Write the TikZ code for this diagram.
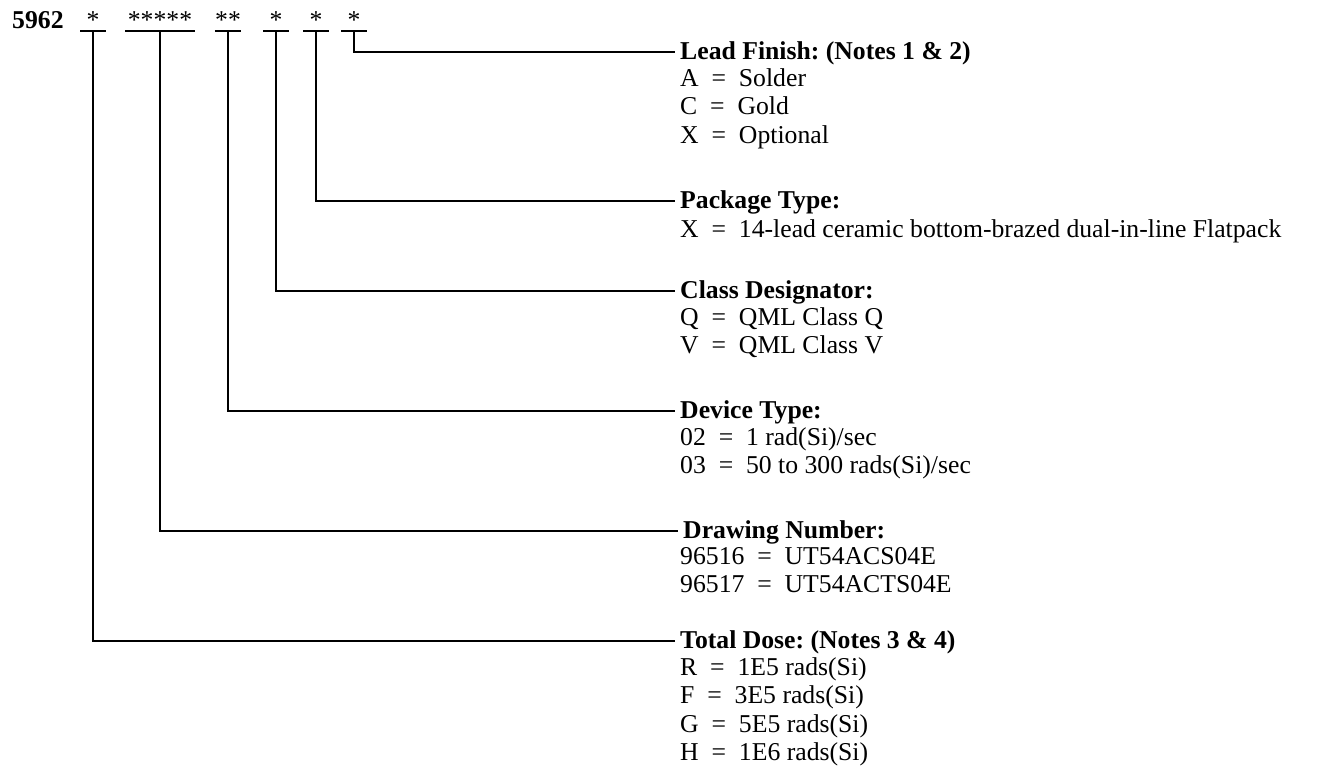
\documentclass[tikz,border=0pt]{standalone}
\usepackage{fontspec}
\setmainfont{Liberation Serif}
\usetikzlibrary{positioning}
\frenchspacing

\begin{document}
\begin{tikzpicture}[
    x=1pt, y=-1pt,
    font=\fontsize{25.7}{28.5}\selectfont,
    campo/.style={inner sep=0pt, text depth=2pt, anchor=base},
    titulo/.style={inner xsep=5pt, inner ysep=0pt, anchor=base west, font=\fontsize{25.7}{28.5}\selectfont\bfseries},
    lista/.style={align=left, inner sep=0pt, execute at begin node=\strut},
    guia/.style={line width=1.8pt},
]
    \useasboundingbox (0,0) rectangle (1318,775);
    % part number and its fields
    \node[titulo, inner xsep=0pt] (pn) at (12,29) {5962};
    \node[campo, minimum width=25pt] (c1) at (93,29) {*};
    \node[campo, minimum width=69pt] (c2) at (160,29) {*****};
    \node[campo, minimum width=24pt] (c3) at (228,29) {**};
    \node[campo, minimum width=25pt] (c4) at (276,29) {*};
    \node[campo, minimum width=25pt] (c5) at (316,29) {*};
    \node[campo, minimum width=25pt] (c6) at (354,29) {*};
    % headings
    \node[titulo] (h1) at (675,59.5) {Lead Finish: (Notes 1 \& 2)};
    \node[titulo] (h2) at (675,208.5) {Package Type:};
    \node[titulo] (h3) at (675,298.5) {Class Designator:};
    \node[titulo] (h4) at (675,418.5) {Device Type:};
    \node[titulo] (h5) at (678,538.5) {Drawing Number:};
    \node[titulo] (h6) at (675,648.5) {Total Dose: (Notes 3 \& 4)};
    % codes
    \node[lista, below=8.55pt of h1.base west, xshift=5pt, anchor=north west] (l1) {A~~=~~Solder\\C~~=~~Gold\\X~~=~~Optional};
    \node[lista, below=8.55pt of h2.base west, xshift=5pt, anchor=north west] (l2) {X~~=~~14-lead ceramic bottom-brazed dual-in-line Flatpack};
    \node[lista, below=8.55pt of h3.base west, xshift=5pt, anchor=north west] (l3) {Q~~=~~QML Class Q\\V~~=~~QML Class V};
    \node[lista, below=8.55pt of h4.base west, xshift=5pt, anchor=north west] (l4) {02~~=~~1 rad(Si)/sec\\03~~=~~50 to 300 rads(Si)/sec};
    \node[lista, below=8.55pt of h5.base west, xshift=2pt, anchor=north west] (l5) {96516~~=~~UT54ACS04E\\96517~~=~~UT54ACTS04E};
    \node[lista, below=8.55pt of h6.base west, xshift=5pt, anchor=north west] (l6) {R~~=~~1E5 rads(Si)\\F~~=~~3E5 rads(Si)\\G~~=~~5E5 rads(Si)\\H~~=~~1E6 rads(Si)};
    \foreach \c in {c1,c2,c3,c4,c5,c6} \draw[guia] (\c.south west) -- (\c.south east);
    \foreach \a/\b in {c6/h1,c5/h2,c4/h3,c3/h4,c2/h5,c1/h6} \draw[guia] (\a.south) |- ([yshift=1.5pt]\b.west);
\end{tikzpicture}
\end{document}
